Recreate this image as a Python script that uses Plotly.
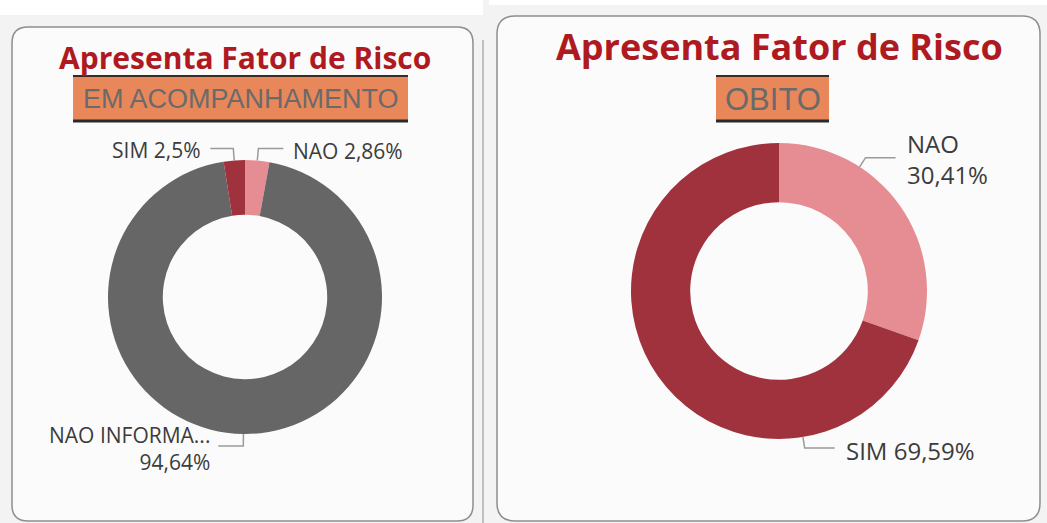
import math
import plotly.graph_objects as go

W, H = 1047, 523

# ---------------- data ----------------
left_labels = ["NAO", "NAO INFORMADO", "SIM"]
left_values = [2.86, 94.64, 2.5]
left_label_text = ["NAO 2,86%", "NAO INFORMA...<br>94,64%", "SIM 2,5%"]

right_labels = ["NAO", "SIM"]
right_values = [30.41, 69.59]
right_label_text = ["NAO<br>30,41%", "SIM 69,59%"]

title_text = "Apresenta Fator de Risco"
left_subtitle = "EM ACOMPANHAMENTO"
right_subtitle = "OBITO"

slice_colors = {"NAO": "#E68C93", "SIM": "#A0323D", "NAO INFORMADO": "#666666"}

# ---------------- layout helpers ----------------
def px(x):
    return x / W

def py(y):
    return 1 - y / H

def rounded_rect(x0, y0, x1, y1, r):
    X0, X1 = px(x0), px(x1)
    Y0, Y1 = py(y0), py(y1)
    rx, ry = r / W, r / H
    return (f"M {X0+rx},{Y0} L {X1-rx},{Y0} Q {X1},{Y0} {X1},{Y0-ry} "
            f"L {X1},{Y1+ry} Q {X1},{Y1} {X1-rx},{Y1} L {X0+rx},{Y1} "
            f"Q {X0},{Y1} {X0},{Y1+ry} L {X0},{Y0-ry} Q {X0},{Y0} {X0+rx},{Y0} Z")

def mid_angles(values):
    tot = sum(values)
    out, cum = [], 0.0
    for v in values:
        out.append((cum + v / 2) / tot * 360.0)
        cum += v
    return out

fig = go.Figure()
shapes, annotations = [], []

# page pieces / panels
shapes.append(dict(type="rect", x0=px(489), x1=1, y0=py(5), y1=1, xref="paper", yref="paper",
                   fillcolor="#ffffff", line=dict(width=0), layer="below"))
shapes.append(dict(type="rect", x0=0, x1=px(483), y0=py(15), y1=1, xref="paper", yref="paper",
                   fillcolor="#ffffff", line=dict(width=0), layer="below"))
shapes.append(dict(type="path", path=rounded_rect(12, 27, 473, 521, 16), xref="paper", yref="paper",
                   fillcolor="#fbfbfb", line=dict(color="#8e8e8e", width=1.5), layer="below"))
shapes.append(dict(type="path", path=rounded_rect(497, 16, 1040, 521, 18), xref="paper", yref="paper",
                   fillcolor="#fbfbfb", line=dict(color="#8e8e8e", width=1.5), layer="below"))
shapes.append(dict(type="line", x0=px(483), x1=px(483), y0=py(40), y1=0, xref="paper", yref="paper",
                   line=dict(color="#b0b0b0", width=1.5), layer="below"))

def add_donut(labels, values, texts, cx, cy, r, hole, angles, sides, d, hlens, font_size, gaps, dys):
    fig.add_trace(go.Pie(
        labels=labels, values=values, hole=hole, sort=False, direction="clockwise", rotation=0,
        marker=dict(colors=[slice_colors[l] for l in labels]),
        textinfo="none", showlegend=False, hoverinfo="label+percent",
        domain=dict(x=[px(cx - r), px(cx + r)], y=[py(cy + r), py(cy - r)]),
    ))
    for txt, ang, side, hlen, gap, dy in zip(texts, angles, sides, hlens, gaps, dys):
        a = math.radians(ang)
        sx, sy = cx + r * math.sin(a), cy - r * math.cos(a)
        ex, ey = cx + (r + d) * math.sin(a), cy - (r + d) * math.cos(a)
        hx = ex + side * hlen
        shapes.append(dict(type="path", xref="paper", yref="paper",
                           path=f"M {px(sx)},{py(sy)} L {px(ex)},{py(ey)} L {px(hx)},{py(ey)}",
                           line=dict(color="#9a9a9a", width=1.5)))
        annotations.append(dict(
            text=txt, x=px(hx + side * gap), y=py(ey + dy),
            xref="paper", yref="paper", showarrow=False,
            xanchor="left" if side > 0 else "right", yanchor="middle",
            align="left" if side > 0 else "right",
            font=dict(family="Open Sans", size=font_size, color="#3c3c3c")))

# left donut: leader anchors at slice mid-angles
add_donut(left_labels, left_values, left_label_text, cx=245, cy=297, r=137, hole=0.6,
          angles=mid_angles(left_values), sides=[1, -1, -1], d=12, hlens=[25, 25, 23],
          font_size=21, gaps=[8, 6, 7], dys=[2, 3, 2])
# right donut
add_donut(right_labels, right_values, right_label_text, cx=779, cy=291, r=148, hole=0.6,
          angles=[33, 170.7], sides=[1, 1], d=11, hlens=[30, 30],
          font_size=24, gaps=[9, 9], dys=[1, 3])

# titles
annotations.append(dict(text="<b>" + title_text + "</b>", x=px(245), y=py(57), xref="paper", yref="paper",
                        showarrow=False, xanchor="center", yanchor="middle",
                        font=dict(family="Open Sans", size=30, color="#AE1A1F")))
annotations.append(dict(text="<b>" + title_text + "</b>", x=px(779), y=py(46), xref="paper", yref="paper",
                        showarrow=False, xanchor="center", yanchor="middle",
                        font=dict(family="Open Sans", size=36, color="#AE1A1F")))

# subtitle boxes
def sub_box(x0, x1, y0, y1, txt, size):
    shapes.append(dict(type="rect", xref="paper", yref="paper", x0=px(x0), x1=px(x1), y0=py(y1), y1=py(y0),
                       fillcolor="#E8875A", line=dict(width=0)))
    shapes.append(dict(type="line", xref="paper", yref="paper", x0=px(x0), x1=px(x1), y0=py(y0), y1=py(y0),
                       line=dict(color="#3a2b22", width=2)))
    shapes.append(dict(type="line", xref="paper", yref="paper", x0=px(x0), x1=px(x1), y0=py(y1), y1=py(y1),
                       line=dict(color="#2a2a2a", width=3)))
    annotations.append(dict(text=txt, x=px((x0 + x1) / 2), y=py((y0 + y1) / 2 + 1), xref="paper", yref="paper",
                            showarrow=False, xanchor="center", yanchor="middle",
                            font=dict(family="Liberation Sans", size=size, color="#6a6a6a")))

sub_box(73, 408, 76, 121, left_subtitle, 27)
sub_box(716, 829, 76, 121, right_subtitle, 31)

fig.update_layout(width=W, height=H, margin=dict(l=0, r=0, t=0, b=0),
                  paper_bgcolor="#f3f3f3", plot_bgcolor="#f3f3f3",
                  shapes=shapes, annotations=annotations)
fig.write_html("out.html", config={"displayModeBar": False},
               post_script="document.body.style.margin='0px';document.body.style.overflow='hidden';")
